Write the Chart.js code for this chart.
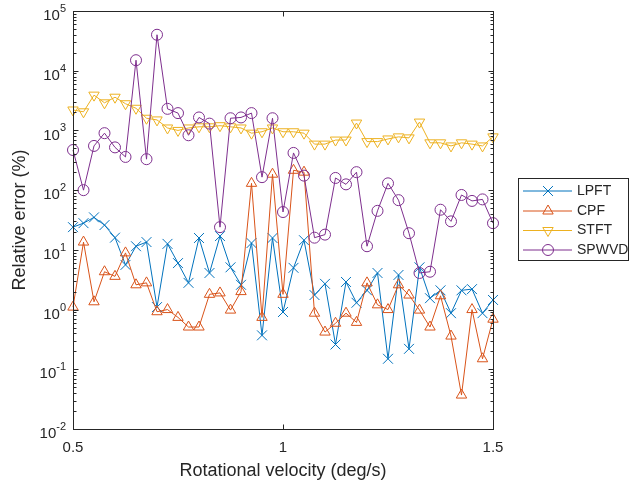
<!DOCTYPE html>
<html lang="en">
<head>
<meta charset="UTF-8">
<title>Relative error vs rotational velocity</title>
<script src="https://cdn.jsdelivr.net/npm/chart.js"></script>
<style>
  body { margin: 0; background: #fff; }
</style>
</head>
<body>
<canvas id="errChart" width="629" height="484"></canvas>
<script>
// rotational velocity (deg/s), 41 steps of 0.025
const velocity = [0.5, 0.525, 0.55, 0.575, 0.6, 0.625, 0.65, 0.675, 0.7, 0.725,
                  0.75, 0.775, 0.8, 0.825, 0.85, 0.875, 0.9, 0.925, 0.95, 0.975,
                  1.0, 1.025, 1.05, 1.075, 1.1, 1.125, 1.15, 1.175, 1.2, 1.225,
                  1.25, 1.275, 1.3, 1.325, 1.35, 1.375, 1.4, 1.425, 1.45, 1.475, 1.5];

// relative error (%)
const lpft = [24, 28, 35, 26, 16, 5.6, 11.5, 13.5, 1.1, 12.6,
              6, 2.8, 15.8, 4.1, 17, 5.1, 2.6, 13, 0.37, 15.8,
              0.91, 5.0, 14.5, 1.75, 2.7, 0.26, 2.9, 1.3, 2.1, 4.1,
              0.15, 3.8, 0.22, 5.1, 1.55, 2.1, 0.87, 2.1, 2.2, 0.87, 1.45];
const cpf = [1.1, 13.5, 1.35, 4.3, 3.6, 8.9, 2.6, 2.8, 0.92, 1.0,
             0.74, 0.51, 0.51, 1.8, 1.9, 0.98, 2.0, 130, 0.74, 185,
             1.8, 215, 200, 0.87, 0.42, 0.59, 0.87, 0.61, 2.8, 1.2,
             1.0, 2.6, 1.75, 0.98, 0.51, 1.7, 0.36, 0.037, 1.0, 0.15, 0.69];
const stft = [2200, 2050, 3900, 2900, 3600, 2800, 2350, 1600, 1500, 1100,
              1000, 1100, 1150, 1150, 1200, 1150, 1100, 900, 950, 1100,
              950, 950, 900, 590, 590, 690, 690, 1330, 650, 650,
              720, 780, 750, 1380, 620, 620, 550, 620, 590, 550, 780];
const spwvd = [470, 100, 550, 900, 520, 360, 15000, 330, 40000, 2300,
               1950, 830, 1650, 1300, 24, 1600, 1650, 1950, 165, 1600,
               43, 420, 175, 16, 18, 160, 125, 200, 11.5, 45,
               130, 68, 19, 4.1, 4.3, 47, 30, 83, 66, 70, 28];

const seriesNames = ['LPFT', 'CPF', 'STFT', 'SPWVD'];
const xTicks = [0.5, 1, 1.5];
const yExponents = [-2, -1, 0, 1, 2, 3, 4, 5];

const colors = ['#0072BD', '#D95319', '#EDB120', '#7E2F8E'];
const markers = [
  { pointStyle: 'crossRot', radius: 7, rotation: 0 },
  { pointStyle: 'triangle', radius: 6, rotation: 0 },
  { pointStyle: 'triangle', radius: 6, rotation: 180 },
  { pointStyle: 'circle', radius: 5.5, rotation: 0 }
];
const axisColor = '#262626';
const fontFamily = '"Liberation Sans", Arial, Helvetica, sans-serif';

function makeDataset(i, values) {
  return {
    label: seriesNames[i],
    data: values.map((v, k) => ({ x: velocity[k], y: v })),
    borderColor: colors[i],
    borderWidth: 1,
    pointStyle: markers[i].pointStyle,
    pointRadius: markers[i].radius,
    pointRotation: markers[i].rotation,
    pointBorderColor: colors[i],
    pointBackgroundColor: 'rgba(0,0,0,0)',
    pointBorderWidth: 1,
    tension: 0,
    clip: false,
    order: 4 - i
  };
}

// MATLAB-like box, inward ticks, tick labels, titles and legend
const matlabAxes = {
  id: 'matlabAxes',
  afterDraw(chart) {
    const ctx = chart.ctx;
    const a = chart.chartArea;
    const xs = chart.scales.x, ys = chart.scales.y;
    const L = Math.round(a.left) + 0.5, R = Math.round(a.right) + 0.5;
    const T = Math.round(a.top) + 0.5, B = Math.round(a.bottom) + 0.5;
    ctx.save();
    ctx.strokeStyle = axisColor;
    ctx.lineWidth = 1;
    ctx.strokeRect(L, T, R - L, B - T);

    // y ticks (log, major + minor)
    ctx.beginPath();
    yExponents.forEach(e => {
      const y = Math.round(ys.getPixelForValue(Math.pow(10, e))) + 0.5;
      ctx.moveTo(L, y); ctx.lineTo(L + 5, y);
      ctx.moveTo(R, y); ctx.lineTo(R - 5, y);
      if (e < 5) {
        for (let m = 2; m <= 9; m++) {
          const ym = Math.round(ys.getPixelForValue(m * Math.pow(10, e))) + 0.5;
          ctx.moveTo(L, ym); ctx.lineTo(L + 3, ym);
          ctx.moveTo(R, ym); ctx.lineTo(R - 3, ym);
        }
      }
    });
    // x ticks
    xTicks.forEach(v => {
      const x = Math.round(xs.getPixelForValue(v)) + 0.5;
      ctx.moveTo(x, B); ctx.lineTo(x, B - 5);
      ctx.moveTo(x, T); ctx.lineTo(x, T + 5);
    });
    ctx.stroke();

    // tick labels
    ctx.fillStyle = axisColor;
    ctx.textBaseline = 'middle';
    yExponents.forEach(e => {
      const y = ys.getPixelForValue(Math.pow(10, e));
      const exp = String(e);
      ctx.font = '11px ' + fontFamily;
      const ew = ctx.measureText(exp).width;
      const right = a.left - 7;
      ctx.textAlign = 'left';
      ctx.fillText(exp, right - ew, y - 2);
      ctx.font = '15px ' + fontFamily;
      ctx.textAlign = 'right';
      ctx.fillText('10', right - ew, y + 5);
    });
    ctx.font = '15px ' + fontFamily;
    ctx.textAlign = 'center';
    xTicks.forEach(v => {
      ctx.fillText(String(v), xs.getPixelForValue(v), a.bottom + 19);
    });

    // axis titles
    ctx.font = '18px ' + fontFamily;
    ctx.fillText('Rotational velocity (deg/s)', (a.left + a.right) / 2, 471);
    ctx.save();
    ctx.translate(20, (a.top + a.bottom) / 2);
    ctx.rotate(-Math.PI / 2);
    ctx.fillText('Relative error (%)', 0, 0);
    ctx.restore();

    // legend
    const lx = 518.5, ly = 178.5, lw = 110, lh = 82;
    ctx.fillStyle = '#fff';
    ctx.fillRect(lx, ly, lw, lh);
    ctx.strokeStyle = axisColor;
    ctx.strokeRect(lx, ly, lw, lh);
    const rows = [191, 211, 230.5, 250];
    seriesNames.forEach((name, i) => {
      const y = rows[i];
      ctx.strokeStyle = colors[i];
      ctx.fillStyle = 'rgba(0,0,0,0)';
      ctx.lineWidth = 1;
      ctx.beginPath();
      ctx.moveTo(523, y); ctx.lineTo(572, y);
      ctx.stroke();
      Chart.helpers.drawPoint(ctx, {
        pointStyle: markers[i].pointStyle,
        radius: markers[i].radius,
        rotation: markers[i].rotation,
        borderWidth: 1
      }, 548, y);
      ctx.fillStyle = axisColor;
      ctx.font = '14px ' + fontFamily;
      ctx.textAlign = 'left';
      ctx.fillText(name, 577, y);
    });
    ctx.restore();
  }
};

const ctx = document.getElementById('errChart').getContext('2d');
new Chart(ctx, {
  type: 'line',
  data: {
    datasets: [
      makeDataset(0, lpft),
      makeDataset(1, cpf),
      makeDataset(2, stft),
      makeDataset(3, spwvd)
    ]
  },
  options: {
    responsive: false,
    animation: false,
    layout: { padding: { left: 73, right: 136, top: 11, bottom: 55 } },
    plugins: { legend: { display: false }, tooltip: { enabled: false } },
    scales: {
      x: { type: 'linear', min: 0.5, max: 1.5, display: false },
      y: { type: 'logarithmic', min: 0.01, max: 100000, display: false }
    }
  },
  plugins: [matlabAxes]
});
</script>
</body>
</html>
